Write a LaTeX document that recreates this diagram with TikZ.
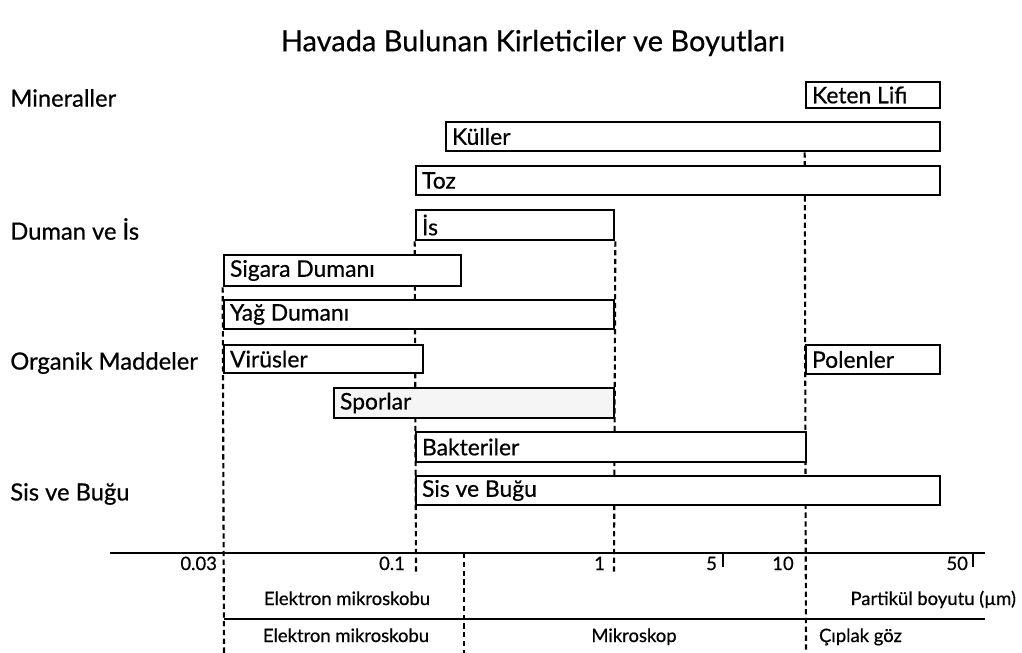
\documentclass[tikz,border=0pt]{standalone}
\usepackage{fontspec}
\setmainfont{Lato}[FakeBold=0.6]
\usetikzlibrary{positioning,fit,backgrounds}

\begin{document}
\begin{tikzpicture}[x=0.02cm, y=-0.02cm,
	bar/.style={draw, line width=1.5pt, fill=white, inner sep=0pt},
	lbl/.style={anchor=west, inner sep=4pt, font=\fontsize{13}{15}\selectfont},
	grp/.style={anchor=west, inner sep=0pt, font=\fontsize{13.5}{15}\selectfont},
	val/.style={inner sep=1pt, font=\fontsize{10.5}{12}\selectfont},
	guide/.style={line width=1.2pt, dash pattern=on 3pt off 2pt}]
	\useasboundingbox (0,0) rectangle (1022,653);
	\node (title) at (533,43) {\fontsize{16.5}{18}\selectfont Havada Bulunan Kirleticiler ve Boyutları};
	% gruplar
	\node[grp] (mineral) at (10,98) {Mineraller};
	\node[grp] (duman) at (10,229) {Duman ve İs};
	\node[grp] (organik) at (10,363) {Organik Maddeler};
	\node[grp] (sis) at (10,494) {Sis ve Buğu};
	% kirleticiler
	\node[bar, fit={(806,82) (940,108)}] (keten) {};
	\node[bar, fit={(446,122) (940,151)}] (kuller) {};
	\node[bar, fit={(416,166) (940,195)}] (toz) {};
	\node[bar, fit={(416,210) (614,240)}] (is) {};
	\node[bar, fit={(224,255) (461,286)}] (sigara) {};
	\node[bar, fit={(224,300) (614,329)}] (yag) {};
	\node[bar, fit={(224,345) (423,373)}] (virus) {};
	\node[bar, fit={(806,345) (940,374)}] (polen) {};
	\node[bar, fill=gray!8, fit={(334,388) (614,418)}] (spor) {};
	\node[bar, fit={(416,432) (806,462)}] (bakteri) {};
	\node[bar, fit={(416,476) (940,505)}] (bugu) {};
	\foreach \b/\t in {keten/Keten Lifi, kuller/Küller, toz/Toz, is/İs,
		sigara/Sigara Dumanı, yag/Yağ Dumanı, virus/Virüsler, polen/Polenler,
		spor/Sporlar, bakteri/Bakteriler, bugu/Sis ve Buğu}
		\node[lbl] at (\b.west) {\t};
	% eksen
	\coordinate (axl) at (110,553);
	\coordinate (axr) at (985,553);
	\coordinate (lowl) at (224,619);
	\coordinate (lowr) at (985,619);
	\draw[line width=1.2pt] (axl) -- (axr);
	\draw[line width=1.2pt] (lowl) -- (lowr);
	\draw[line width=1pt] (723,553) -- (723,567) (973,553) -- (973,567);
	\node[val, anchor=base east] (v003) at (219,570) {0.03};
	\node[val, anchor=base east] (v01) at (407,570) {0.1};
	\node[val, anchor=base east] (v1) at (607,570) {1};
	\node[val, anchor=base east] (v5) at (719,570) {5};
	\node[val, anchor=base] (v10) at (783,570) {10};
	\node[val, anchor=base east] (v50) at (970,570) {50};
	\node[val, anchor=base] (em1) at (347,605) {Elektron mikroskobu};
	\node[val, anchor=base east] (pb) at (1018,605) {Partikül boyutu (µm)};
	\node[val, anchor=base] (em2) at (346,642) {Elektron mikroskobu};
	\node[val, anchor=base] (mik) at (634,642) {Mikroskop};
	\node[val, anchor=base west] (goz) at (817,642) {Çıplak göz};
	% kesikli ayrimlar
	\coordinate (bot1) at (224,653);
	\coordinate (bot2) at (416,573);
	\coordinate (bot3) at (614,573);
	\coordinate (bot4) at (806,653);
	\coordinate (top5) at (464,553);
	\coordinate (bot5) at (464,653);
	\begin{scope}[on background layer]
		\draw[guide] (sigara.south west) -- (bot1);
		\draw[guide] (is.south west) -- (bot2);
		\draw[guide] (is.south east) -- (bot3);
		\draw[guide] (kuller.south -| keten.west) -- (bot4);
		\draw[guide] (top5) -- (bot5);
	\end{scope}
\end{tikzpicture}
\end{document}
